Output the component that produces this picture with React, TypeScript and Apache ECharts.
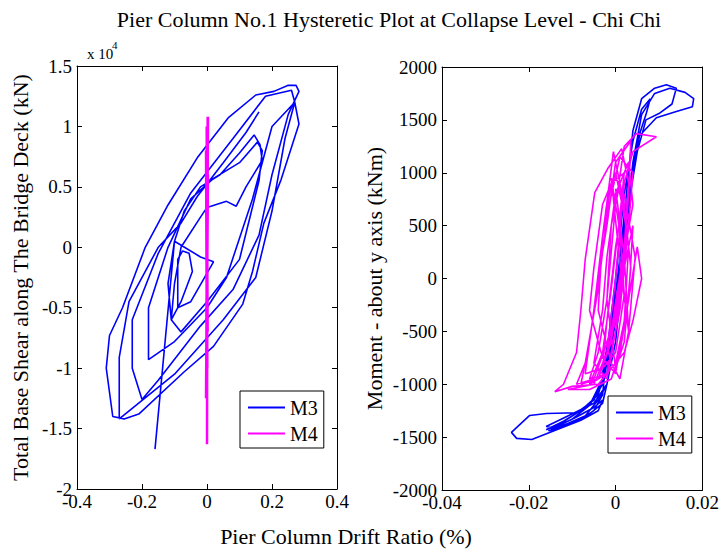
import React, { useEffect, useRef } from "react";
import * as echarts from "echarts";

// ---- Left panel: base shear (x 10^4 kN) vs drift ratio (%) ----
const leftM3Drift = [
  -0.16, -0.1, -0.02, 0.02, -0.05, -0.09, -0.09, -0.075, -0.055, -0.045, -0.08, -0.11,
  -0.1, -0.08, -0.02, 0.0, 0.06, 0.09, 0.12, 0.17, 0.163, 0.145, 0.1, 0.04, -0.02,
  -0.07, -0.1, -0.12, -0.11, -0.08, 0.0, 0.1, 0.16, 0.17, 0.155, 0.1, 0.02, -0.05,
  -0.12, -0.18, -0.18, -0.1, 0.0, 0.06, 0.14, 0.2, 0.27, 0.283, 0.228, 0.175, 0.14,
  0.11, 0.02, -0.07, -0.21, -0.255, -0.29, -0.31, -0.3, -0.26, -0.19, -0.12, -0.03,
  0.065, 0.15, 0.206, 0.25, 0.274, 0.283, 0.25, 0.2, 0.16, 0.08, -0.02, -0.15, -0.2,
  -0.23, -0.23, -0.15, -0.05, 0.08, 0.18, 0.26, 0.27, 0.24, 0.2, 0.15, 0.05, -0.1,
  -0.27, -0.27, -0.24, -0.15, -0.08, -0.03, 0.05, 0.12, 0.16,
];
const leftM3Shear = [
  -1.67, 0.05, -0.08, -0.12, -0.45, -0.5, -0.1, -0.03, -0.05, -0.2, -0.45, -0.6,
  -0.3, 0.0, 0.25, 0.33, 0.38, 0.34, 0.5, 0.72, 0.85, 0.93, 0.78, 0.6, 0.5,
  0.3, 0.05, -0.3, -0.6, -0.7, -0.45, -0.1, 0.55, 0.8, 0.87, 0.7, 0.57, 0.4,
  0.0, -0.5, -0.93, -0.78, -0.5, -0.25, 0.4, 1.0, 1.2, 1.02, 0.56, 0.2, -0.2,
  -0.47, -0.82, -1.03, -1.38, -1.42, -1.4, -1.0, -0.73, -0.5, 0.0, 0.35, 0.74,
  1.07, 1.26, 1.29, 1.34, 1.34, 1.29, 1.1, 0.6, 0.1, -0.35, -0.65, -1.1, -1.26,
  -1.0, -0.6, -0.05, 0.45, 0.9, 1.25, 1.3, 1.2, 0.9, 0.3, -0.25, -0.6, -1.05,
  -1.42, -0.91, -0.45, 0.0, 0.2, 0.42, 0.7, 0.95, 1.12,
];
const leftM4Drift = [
  0.0, 0.003, -0.003, 0.002, 0.0, 0.001, -0.002, 0.003, -0.001, 0.002, 0.0, -0.003,
  0.002, -0.001, 0.001, 0.0, 0.002, -0.002, 0.003, -0.001, 0.001, 0.0,
];
const leftM4Shear = [
  0.0, 1.08, -1.25, 1.08, -1.63, 0.9, -1.1, 1.05, -0.9, 0.95, -1.2, 0.8, -0.7, 1.0,
  -1.0, 0.2, 0.7, -0.6, 0.6, -0.8, 0.5, 0.0,
];

// ---- Right panel: moment about y axis (kNm) vs drift ratio (%) ----
const rightM3Drift = [
  -0.003, -0.001, 0.0005, 0.002, 0.003, 0.004, 0.006, 0.009, 0.0117, 0.014, 0.013,
  0.01, 0.007, 0.005, 0.003, 0.001, -0.001, -0.003, -0.006, -0.012, -0.016, -0.013,
  -0.008, -0.004, -0.002, 0.0, 0.002, 0.004, 0.006, 0.009, 0.0125, 0.016, 0.018,
  0.0177, 0.014, 0.0094, 0.0055, 0.004, 0.002, 0.0, -0.002, -0.005, -0.009, -0.0159,
  -0.0198, -0.024, -0.0228, -0.0193, -0.013, -0.008, -0.005, -0.003, -0.002, 0.0,
  0.002, 0.004, 0.006, 0.008, 0.007, 0.005, 0.003, 0.001, -0.001, -0.003, -0.006,
  -0.01, -0.015, -0.012, -0.007, -0.004, -0.002, -0.005, -0.011, -0.016, -0.014,
  -0.009, -0.005, -0.003, -0.004, -0.008, -0.013, -0.0155, -0.011, -0.006, -0.003,
  -0.002, 0.0, 0.002,
];
const rightM3Moment = [
  -900, -400, 0, 600, 1000, 1400, 1700, 1800, 1833, 1800, 1650, 1560, 1500, 1200,
  700, 0, -600, -1000, -1200, -1350, -1430, -1380, -1250, -1100, -800, -300, 400,
  1100, 1550, 1750, 1800, 1760, 1700, 1625, 1580, 1520, 1350, 1000, 300, -400,
  -900, -1150, -1270, -1276, -1295, -1455, -1512, -1522, -1420, -1330, -1250, -1100,
  -700, 0, 800, 1300, 1600, 1700, 1550, 1300, 800, 200, -500, -950, -1200, -1330,
  -1420, -1400, -1300, -1150, -1000, -1180, -1300, -1400, -1410, -1310, -1220, -1150,
  -1250, -1340, -1420, -1440, -1370, -1280, -1180, -1000, -600, 200,
];
const rightM4Drift = [
  0.0, 0.002, 0.004, 0.0094, 0.0048, 0.002, 0.0, -0.002, -0.004, -0.006, -0.002,
  0.001, 0.003, 0.004, 0.001, -0.002, -0.004, -0.007, -0.009, -0.005, -0.001, 0.002,
  0.003, 0.0014, -0.0018, -0.0048, -0.007, -0.008, -0.009, -0.012, -0.014, -0.01,
  -0.004, 0.0, 0.003, 0.005, 0.006, 0.004, 0.002, -0.002, -0.006, -0.003, -0.001,
  0.001, 0.002, -0.001, -0.003, -0.005, -0.007, -0.003, 0.0, 0.002, 0.003, 0.0035,
  0.0, -0.002, -0.004, -0.006, -0.008, -0.004, -0.001, 0.001, 0.004, 0.003, 0.0,
  -0.002, -0.003, -0.005, -0.002, 0.0, 0.002, 0.004, 0.003, 0.001, -0.001, -0.006,
  -0.011, -0.005, -0.002, 0.0, 0.0015, 0.0, -0.003, -0.005, -0.006, -0.003, 0.0,
  0.002, 0.003, 0.001, -0.001, -0.002, 0.0, 0.002, 0.0035, 0.002, -0.0005, -0.003,
  -0.004, -0.001, 0.001, 0.003, 0.0045, 0.002, 0.0, -0.002, -0.003, 0.0, 0.002,
  0.001, -0.001, 0.001, 0.003, 0.002, 0.0,
];
const rightM4Moment = [
  0, 900, 1200, 1340, 1370, 1250, 700, -200, -700, -950, -900, -300, 500, 1000,
  1150, 600, -100, -800, -1000, -950, -500, 300, 900, 1228, 1040, 813, 180, -300,
  -700, -1000, -1070, -1020, -1000, -800, -200, 300, 0, -400, -700, -900, -1000,
  -700, -100, 600, 1000, 900, 400, -300, -900, -850, -400, 200, 800, 1300, 1100,
  500, 0, -600, -1000, -950, -600, 0, 700, 1100, 800, 200, -300, -800, -950, -500,
  100, 500, -200, -700, -950, -1050, -1050, -1000, -700, 0, 700, 1000, 700, 100, -300,
  -750, -900, -400, 300, 900, 500, -200, -850, -600, 100, 700, 1200, 400, -300,
  -800, -950, -500, 200, 800, 300, -400, -850, -700, -150, 450, 950, 150, -500, 200,
  850, 1050, 600,
];

const leftXTicks = { min: -0.4, max: 0.4, interval: 0.2 };
const leftYTicks = { min: -2, max: 1.5, interval: 0.5 };
const rightXTicks = { min: -0.04, max: 0.02, interval: 0.02 };
const rightYTicks = { min: -2000, max: 2000, interval: 500 };

const FONT = "'Times New Roman', 'Liberation Serif', serif";
const BLUE = "#0000ff";
const MAGENTA = "#ff00ff";

const zip = (xs: number[], ys: number[]) => xs.map((x, i) => [x, ys[i]]);
const fmt = (v: number) => "{t|" + String(Math.round(v * 10000) / 10000) + "}";
const tickRich = { t: { fontFamily: FONT, fontSize: 19, color: "#000" } };

function App() {
  const ref = useRef<HTMLDivElement>(null);
  useEffect(() => {
    if (!ref.current) return;
    const chart = echarts.init(ref.current, null, { renderer: "svg" });
    const mkX = (grid: number, t: any, top: boolean) => ({
      type: "value",
      gridIndex: grid,
      position: top ? "top" : "bottom",
      min: t.min,
      max: t.max,
      interval: t.interval,
      axisLine: { show: true, onZero: false, lineStyle: { color: "#000", width: 1 } },
      axisTick: { show: true, inside: true, length: 5, lineStyle: { color: "#000" } },
      axisLabel: {
        show: !top, margin: 3, color: "#000", fontFamily: FONT, fontSize: 19,
        formatter: fmt, rich: tickRich, hideOverlap: false,
      },
      splitLine: { show: false },
    });
    const mkY = (grid: number, t: any, right: boolean, name?: string, gap?: number) => ({
      type: "value",
      gridIndex: grid,
      position: right ? "right" : "left",
      min: t.min,
      max: t.max,
      interval: t.interval,
      name: name || "",
      nameLocation: "middle",
      nameGap: gap || 0,
      nameTextStyle: { color: "#000", fontFamily: FONT, fontSize: 22 },
      axisLine: { show: true, onZero: false, lineStyle: { color: "#000", width: 1 } },
      axisTick: { show: true, inside: true, length: 5, lineStyle: { color: "#000" } },
      axisLabel: {
        show: !right, margin: 5, color: "#000", fontFamily: FONT, fontSize: 19,
        formatter: fmt, rich: tickRich, hideOverlap: false,
      },
      splitLine: { show: false },
    });
    const legendBase = {
      orient: "vertical",
      data: ["M3", "M4"],
      icon: "rect",
      borderColor: "#000",
      borderWidth: 1,
      borderRadius: 0,
      backgroundColor: "#fff",
      padding: [6, 6, 4, 8],
      itemGap: 5,
      itemWidth: 37,
      itemHeight: 2,
      textStyle: { color: "#000", fontFamily: FONT, fontSize: 20, lineHeight: 21 },
      selectedMode: false,
    };
    chart.setOption({
      animation: false,
      backgroundColor: "#fff",
      textStyle: { fontFamily: FONT },
      grid: [
        { left: 77, top: 66, width: 260, height: 423, show: false },
        { left: 442, top: 67, width: 261, height: 423, show: false },
      ],
      xAxis: [
        mkX(0, leftXTicks, false),
        mkX(0, leftXTicks, true),
        mkX(1, rightXTicks, false),
        mkX(1, rightXTicks, true),
      ],
      yAxis: [
        mkY(0, leftYTicks, false, "Total Base Shear along The Bridge Deck (kN)", 46),
        mkY(0, leftYTicks, true),
        mkY(1, rightYTicks, false, "Moment - about y axis (kNm)", 57),
        mkY(1, rightYTicks, true),
      ],
      legend: [
        { ...legendBase, left: 240, top: 391 },
        { ...legendBase, left: 608, top: 396 },
      ],
      series: [
        {
          name: "M3", type: "line", xAxisIndex: 0, yAxisIndex: 0, symbol: "none",
          lineStyle: { color: BLUE, width: 1.6 }, itemStyle: { color: BLUE },
          data: zip(leftM3Drift, leftM3Shear),
        },
        {
          name: "M4", type: "line", xAxisIndex: 0, yAxisIndex: 0, symbol: "none",
          lineStyle: { color: MAGENTA, width: 2.5 }, itemStyle: { color: MAGENTA },
          data: zip(leftM4Drift, leftM4Shear),
        },
        {
          name: "M3", type: "line", xAxisIndex: 2, yAxisIndex: 2, symbol: "none",
          lineStyle: { color: BLUE, width: 1.6 }, itemStyle: { color: BLUE },
          data: zip(rightM3Drift, rightM3Moment),
        },
        {
          name: "M4", type: "line", xAxisIndex: 2, yAxisIndex: 2, symbol: "none",
          lineStyle: { color: MAGENTA, width: 1.6 }, itemStyle: { color: MAGENTA },
          data: zip(rightM4Drift, rightM4Moment),
        },
      ],
      graphic: [
        {
          type: "text", x: 389, y: 19,
          style: {
            text: "Pier Column No.1 Hysteretic Plot at Collapse Level - Chi Chi",
            fontFamily: FONT, fontSize: 22, fill: "#000",
            textAlign: "center", textVerticalAlign: "middle",
          },
        },
        {
          type: "text", x: 87, y: 61,
          style: { text: "x 10", fontFamily: FONT, fontSize: 15, fill: "#000", textVerticalAlign: "bottom" },
        },
        {
          type: "text", x: 112, y: 50,
          style: { text: "4", fontFamily: FONT, fontSize: 11, fill: "#000", textVerticalAlign: "bottom" },
        },
        {
          type: "text", x: 346, y: 536,
          style: {
            text: "Pier Column Drift Ratio (%)", fontFamily: FONT, fontSize: 22, fill: "#000",
            textAlign: "center", textVerticalAlign: "middle",
          },
        },
      ],
    });
    return () => chart.dispose();
  }, []);
  return (
    <div
      ref={ref}
      style={{ position: "absolute", left: 0, top: 0, width: 722, height: 550 }}
    />
  );
}

export default App;
